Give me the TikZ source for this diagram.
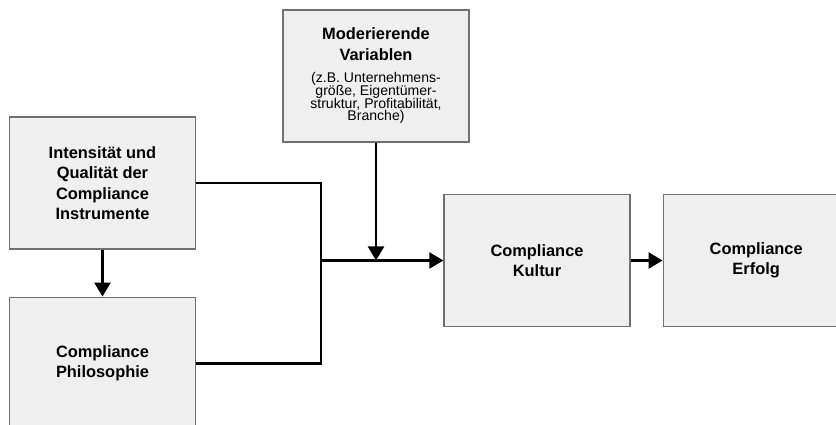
\documentclass[tikz,border=0pt]{standalone}
\usepackage{fontspec}
\setmainfont{Liberation Sans}
\usepackage{tikz}
\usetikzlibrary{arrows.meta, positioning}
\usepackage{xcolor}
\definecolor{boxfill}{HTML}{EFEFEF}
\definecolor{boxline}{HTML}{707070}
\newcommand{\notefont}{\mdseries\fontsize{12}{10.5}\selectfont}

\begin{document}
\begin{tikzpicture}[x=0.03cm,y=-0.03cm,node distance=1.41cm,
    >={Triangle[length=12pt,width=13.5pt]}]
  \tikzstyle{block}=[rectangle,draw=boxline,line width=1pt,fill=boxfill,
    minimum width=5.58cm,minimum height=3.96cm,inner sep=0pt,align=center,
    font=\bfseries\fontsize{14}{17.5}\selectfont]
  \tikzstyle{link}=[line width=2.5pt]

  \clip (0,0) rectangle (836,425);
  \useasboundingbox (0,0) rectangle (836,425);

  \node[block]                 (instr)  at (102.5,183)   {Intensität und\\Qualität der\\Compliance\\Instrumente};
  \node[block]                 (philo)  [below=of instr] {Compliance\\Philosophie};
  \node[block]                 (moder)  at (376,76)      {\begin{tabular}{@{}c@{}}%
    Moderierende\\[0.5pt]
    Variablen\\[1.5pt]
    \notefont (z.B. Unternehmens-\\[-6.7pt]
    \notefont größe, Eigentümer-\\[-6.7pt]
    \notefont struktur, Profitabilität,\\[-6.7pt]
    \notefont Branche)%
  \end{tabular}};
  \node[block]                 (kultur) at (537,260.5)   {Compliance\\Kultur};
  \node[block]                 (erfolg) [right=0.96cm of kultur] {Compliance\\Erfolg};

  \coordinate (join) at (321,260.5);

  \draw[link] (instr.east) -| (join) |- (philo.east);
  \path[->,link]
  (instr)  edge (philo)
  (join)   edge (kultur.west)
  (moder)  edge (moder |- join)
  (kultur) edge (erfolg)
  ;
\end{tikzpicture}
\end{document}
